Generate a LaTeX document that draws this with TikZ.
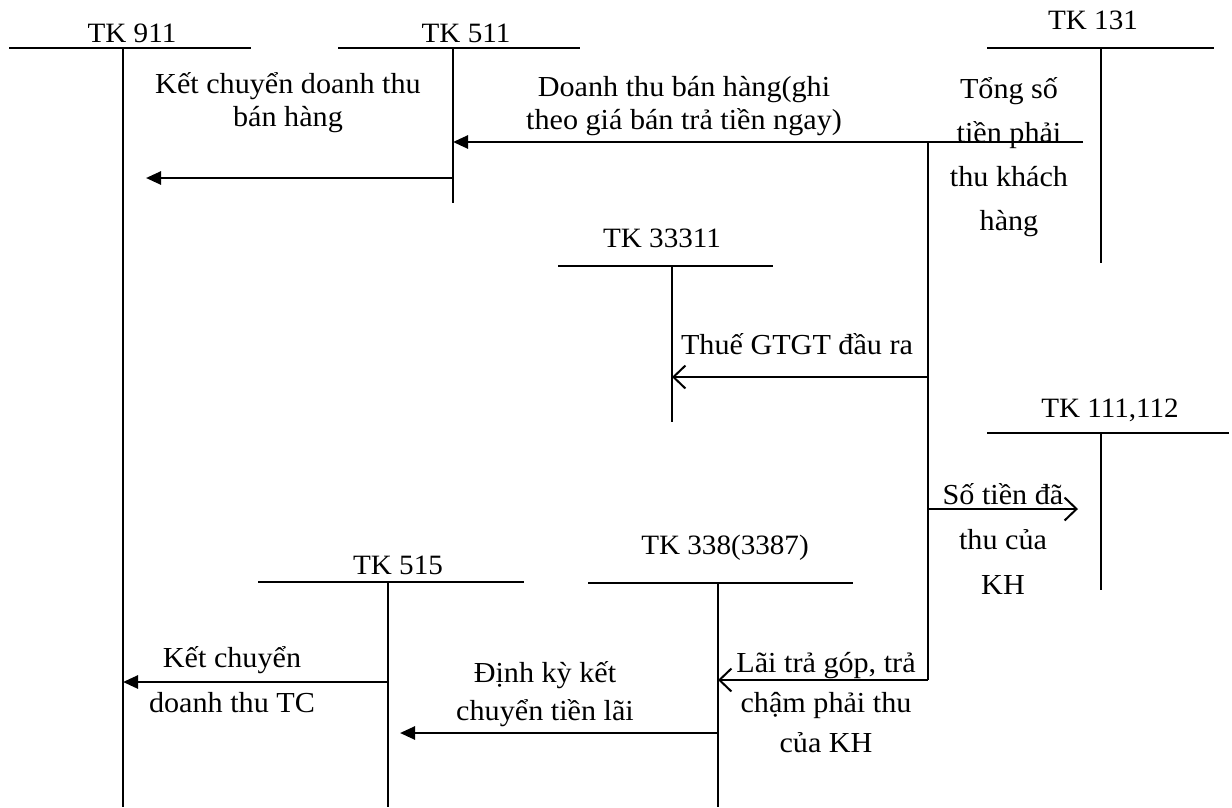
\documentclass[tikz,border=0pt]{standalone}
\usepackage{fontspec}
\setmainfont{Liberation Serif}[FakeStretch=1.04]
\usetikzlibrary{arrows.meta}
\tikzset{
  tline/.style={line width=1.8pt},
  tlabel/.style={inner sep=0pt, font=\fontsize{28}{32}\selectfont},
  note/.style={inner sep=0pt, align=center, font=\fontsize{29}{#1}\selectfont},
  note/.default=40,
  fillarr/.style={line width=2.6pt, -{Triangle[length=15pt,width=13pt]}},
  openarr/.style={line width=2pt, -{Straight Barb[length=12pt,width=23pt]}},
}
\newcommand{\taccount}[9]{%
  \draw[tline] (#3,#6) -- (#4,#6);
  \coordinate (#1-top) at (#5,#6);
  \coordinate (#1-bot) at (#5,#7);
  \draw[tline] (#1-top) -- (#1-bot);
  \node[tlabel] (#1-lbl) at (#8,#9) {#2};
}
\begin{document}
\begin{tikzpicture}[x=1pt,y=-1pt]
  \useasboundingbox (0,0) rectangle (1232,807);

  \taccount{tk911}{TK 911}{9}{251}{123}{48}{807}{132}{33}
  \taccount{tk511}{TK 511}{338}{580}{453}{48}{203}{466}{33}
  \taccount{tk131}{TK 131}{987}{1214}{1101}{48}{263}{1093}{20}
  \taccount{tk33311}{TK 33311}{558}{773}{672}{266}{422}{662}{238}
  \taccount{tk111}{TK 111,112}{987}{1229}{1101}{433}{590}{1110}{410}
  \taccount{tk338}{TK 338(3387)}{588}{853}{718}{583}{807}{725}{548}
  \taccount{tk515}{TK 515}{258}{524}{388}{582}{807}{398}{565}

  \node[note=33] (kcbh) at (288,103) {Kết chuyển doanh thu\\bán hàng};
  \node[note=33] (dtbh) at (684,106) {Doanh thu bán hàng(ghi\\theo giá bán trả tiền ngay)};
  \node[note=44] (tongso) at (1009,157) {Tổng số\\tiền phải\\thu khách\\hàng};
  \node[note] (thue) at (797,344) {Thuế GTGT đầu ra};
  \node[note=45] (dathu) at (1003,539) {Số tiền đã\\thu của\\KH};
  \node[note=40] (laitg) at (826,703) {Lãi trả góp, trả\\chậm phải thu\\của KH};
  \node[note=38] (dinhky) at (545,694) {Định kỳ kết\\chuyển tiền lãi};
  \node[note=45] (kctc) at (232,680) {Kết chuyển\\doanh thu TC};

  \coordinate (s131) at (1083,142);
  \coordinate (m-top) at (928,142);
  \coordinate (m-bot) at (928,680);
  \coordinate (v33311) at (928,377);
  \coordinate (v111) at (928,509);
  \coordinate (k511) at (453,178);
  \coordinate (k338) at (718,733);
  \coordinate (k515) at (388,682);

  \draw[fillarr] (s131) -- (s131 -| tk511-top);
  \draw[fillarr, shorten >=23pt] (k511) -- (k511 -| tk911-top);
  \draw[tline] (m-top) -- (m-bot);
  \draw[openarr] (v33311) -- (v33311 -| tk33311-top);
  \draw[openarr, shorten >=23pt] (v111) -- (v111 -| tk111-top);
  \draw[openarr] (m-bot) -- (m-bot -| tk338-top);
  \draw[fillarr, shorten >=12pt] (k338) -- (k338 -| tk515-top);
  \draw[fillarr] (k515) -- (k515 -| tk911-top);
\end{tikzpicture}
\end{document}
